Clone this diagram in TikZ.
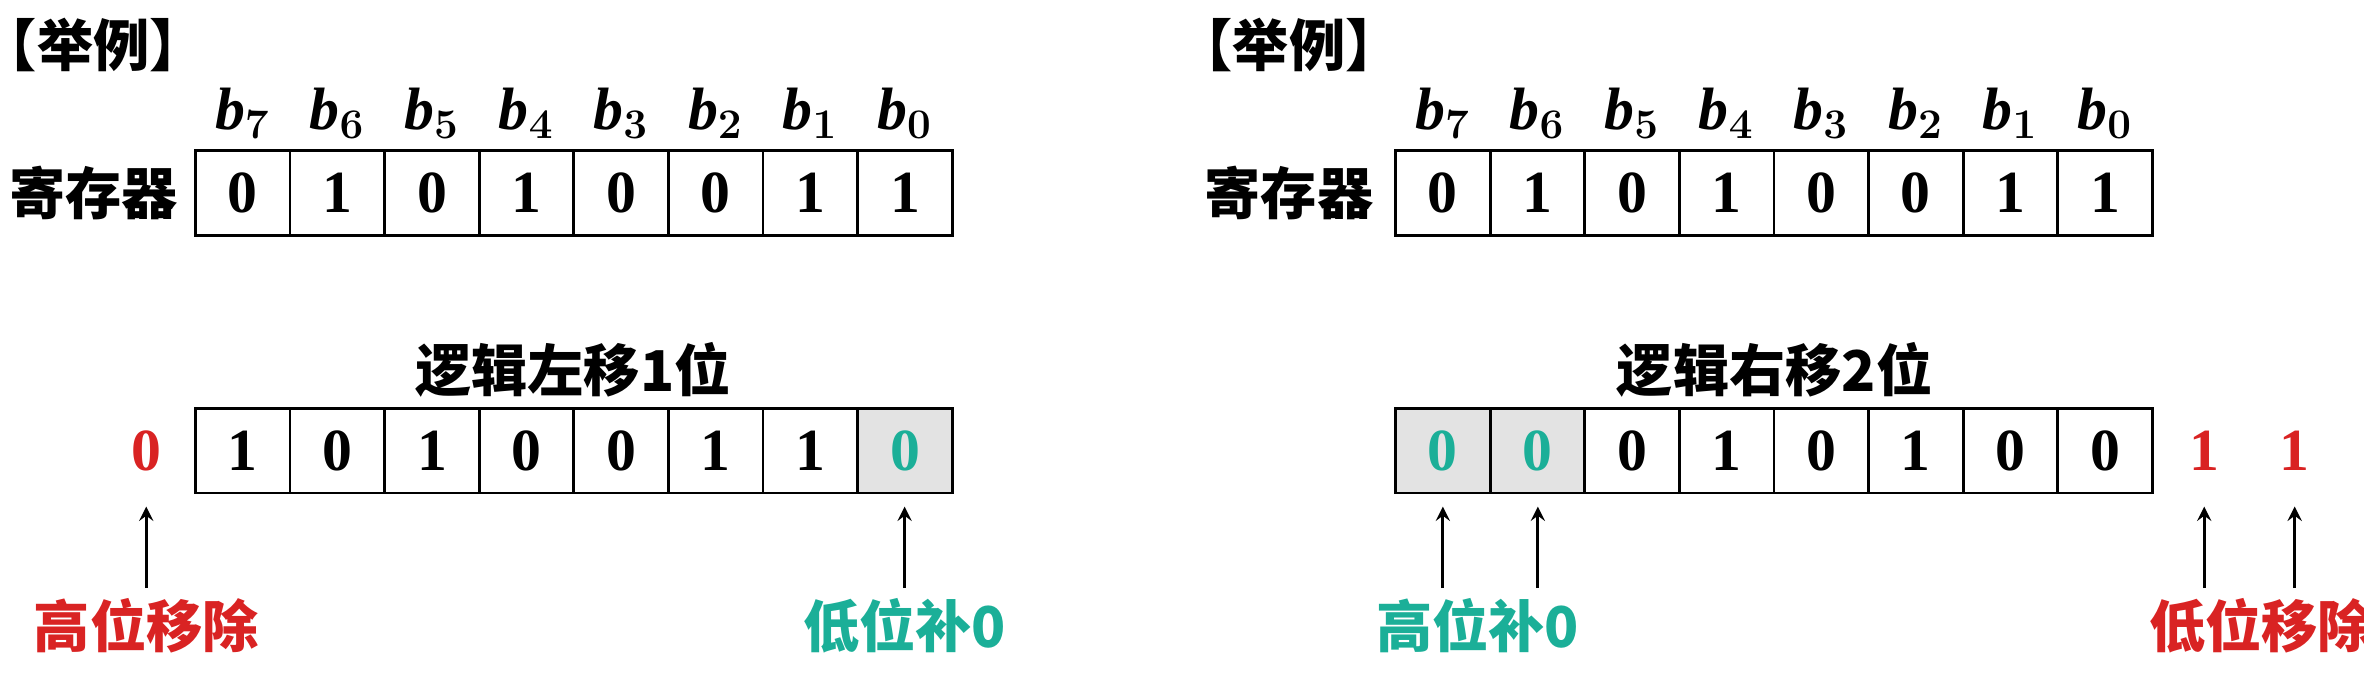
\documentclass[tikz,border=0pt]{standalone}
\usepackage{amsmath}
\usepackage{fontspec}
\setmainfont{Liberation Serif}
\newfontfamily\cjk{Noto Sans CJK SC}
\usetikzlibrary{positioning}
\definecolor{rd}{HTML}{D92323}
\definecolor{tl}{HTML}{1BAF98}

\begin{document}
\begin{tikzpicture}[
            x = 0.01508cm, y = -0.01508cm,
            > = stealth, % arrow head style
            thick,
            font=\fontsize{17}{20}\selectfont
        ]

        \tikzstyle{cell}=[
            draw = black,
            thick,
            minimum width = 0.946cm,
            minimum height = 0.845cm,
            inner sep = 0pt,
            font=\fontsize{17}{20}\selectfont\bfseries
        ]
        \tikzstyle{shade}=[cell, fill = gray!22, text = tl]
        \tikzstyle{zh}=[font=\fontsize{16}{19}\selectfont\cjk\bfseries]

        \useasboundingbox (0, 0) rectangle (1568, 448);

        % left panel
        \node[zh] (ex1) at (62, 30) {【举例】};
        \node[zh] (reg1) at (62, 128) {寄存器};
        \foreach \v [count=\i from 0] in {0,1,0,1,0,0,1,1} {
            \pgfmathtruncatemacro{\b}{7-\i}
            \node[cell] (lt\i) at ({161+62.75*\i}, 128) {\v};
            \node (lb\i) at ({161+62.75*\i}, 75) {\textbf{\textit{b}}$_{\boldsymbol{\b}}$};
        }
        \node[zh] (t1) at (380, 245) {逻辑左移1位};
        \foreach \v [count=\i from 0] in {1,0,1,0,0,1,1} {
            \node[cell] (lc\i) at ({161+62.75*\i}, 299) {\v};
        }
        \node[shade] (lc7) at ({161+62.75*7}, 299) {0};
        \node[text=rd, font=\fontsize{17}{20}\selectfont\bfseries] (out1) at (97, 299) {0};
        \coordinate (a1) at (97, 390);
        \coordinate (a2) at (600, 390);
        \draw[->] (a1) -- (97, 336);
        \draw[->] (a2) -- (600, 336);
        \node[zh, text=rd] (hi1) at (97, 415) {高位移除};
        \node[zh, text=tl] (lo1) at (600, 415) {低位补0};

        % right panel
        \node[zh] (ex2) at (855, 30) {【举例】};
        \node[zh] (reg2) at (855, 128) {寄存器};
        \foreach \v [count=\i from 0] in {0,1,0,1,0,0,1,1} {
            \pgfmathtruncatemacro{\b}{7-\i}
            \node[cell] (rt\i) at ({957+62.75*\i}, 128) {\v};
            \node (rb\i) at ({957+62.75*\i}, 75) {\textbf{\textit{b}}$_{\boldsymbol{\b}}$};
        }
        \node[zh] (t2) at (1177, 245) {逻辑右移2位};
        \node[shade] (rc0) at (957, 299) {0};
        \node[shade] (rc1) at ({957+62.75}, 299) {0};
        \foreach \v [count=\i from 2] in {0,1,0,1,0,0} {
            \node[cell] (rc\i) at ({957+62.75*\i}, 299) {\v};
        }
        \node[text=rd, font=\fontsize{17}{20}\selectfont\bfseries] (out2) at (1462, 299) {1};
        \node[text=rd, font=\fontsize{17}{20}\selectfont\bfseries] (out3) at (1522, 299) {1};
        \foreach \n/\x in {rc0/957, rc1/1020, out2/1462, out3/1522} {
            \coordinate (f\n) at (\x, 390);
            \draw[->] (f\n) -- (\x, 336);
        }
        \node[zh, text=tl] (hi2) at (980, 415) {高位补0};
        \node[zh, text=rd] (lo2) at (1500, 415) {低位移除};
\end{tikzpicture}
\end{document}
